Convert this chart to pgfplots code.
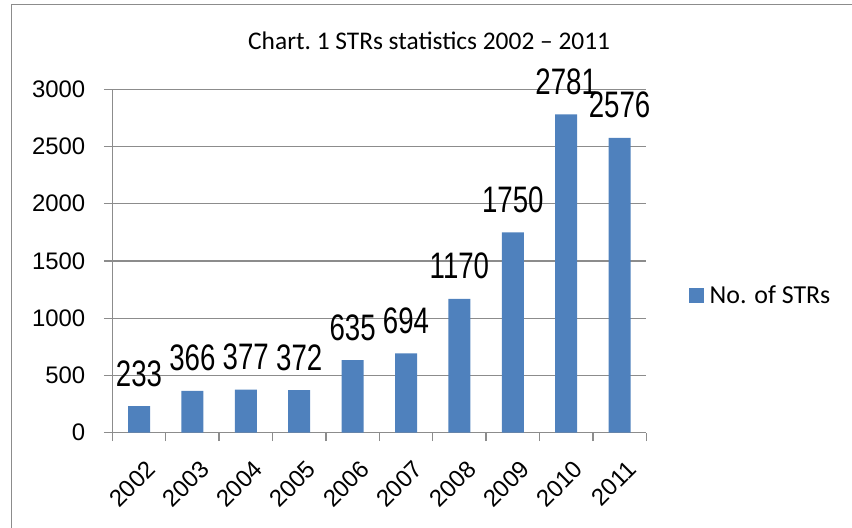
\documentclass[border=0pt]{standalone}
\usepackage{pgfplots}
\pgfplotsset{compat=1.18}
\usepackage{fontspec}
\setmainfont{Carlito}
\newfontfamily\arial{Liberation Sans}
\newfontfamily\arialnn{Liberation Sans}[FakeStretch=0.75]
\definecolor{barblue}{HTML}{4F81BD}
\definecolor{gridgray}{HTML}{8C8C8C}
\begin{document}
\begin{tikzpicture}[x=1bp,y=1bp]
\path[use as bounding box] (0,0) rectangle (852,528);
\draw[gridgray, line width=1.6bp] (11.5,0) -- (11.5,523.5) -- (852,523.5);
\node[font=\fontsize{25.5}{30}\selectfont, anchor=base west, inner sep=0pt] at (248,478) {Chart.\ 1 STRs statistics 2002 – 2011};
\begin{axis}[
  at={(112.3bp,95.3bp)}, anchor=south west,
  scale only axis, width=534bp, height=343.4bp,
  xmin=-0.5, xmax=9.5, ymin=0, ymax=3000,
  clip=false,
  axis x line*=bottom, axis y line*=left,
  axis line style={-, gridgray, line width=1.3bp},
  /pgf/number format/1000 sep={},
  /pgf/number format/assume math mode=true,
  ytick={0,500,...,3000},
  ymajorgrids, grid style={gridgray, line width=1.3bp},
  tick align=outside, major tick length=8.5bp,
  tick style={gridgray, line width=1.3bp},
  yticklabel style={font=\arial\fontsize{24}{28}\selectfont, xshift=-15bp},
  xtick={-0.5,0.5,...,9.5}, xticklabels={},
  extra x ticks={0,1,2,3,4,5,6,7,8,9},
  extra x tick labels={2002,2003,2004,2005,2006,2007,2008,2009,2010,2011},
  extra x tick style={tick style={draw=none}, grid=none,
    xticklabel style={font=\arial\fontsize{24}{28}\selectfont, rotate=45, anchor=north east, inner sep=0pt, xshift=-8bp, yshift=-17bp}},
  ybar, bar width=22bp,
  nodes near coords,
  every node near coord/.append style={font=\arialnn\fontsize{37}{40}\selectfont, anchor=base, yshift=20bp, inner sep=0pt, text=black},
  legend style={at={(rel axis cs:1.079,0.4)}, anchor=west, draw=none, fill=none, inner sep=0pt, font=\fontsize{26}{30}\selectfont},
  legend image code/.code={\fill[barblue] (0bp,-8bp) rectangle (15bp,7bp); \path (19bp,0bp);},
]
\addplot[fill=barblue, draw=none] coordinates {
(0,233) (1,366) (2,377) (3,372) (4,635) (5,694) (6,1170) (7,1750) (8,2781) (9,2576)};
\addlegendentry{No. of STRs}
\end{axis}
\end{tikzpicture}
\end{document}
